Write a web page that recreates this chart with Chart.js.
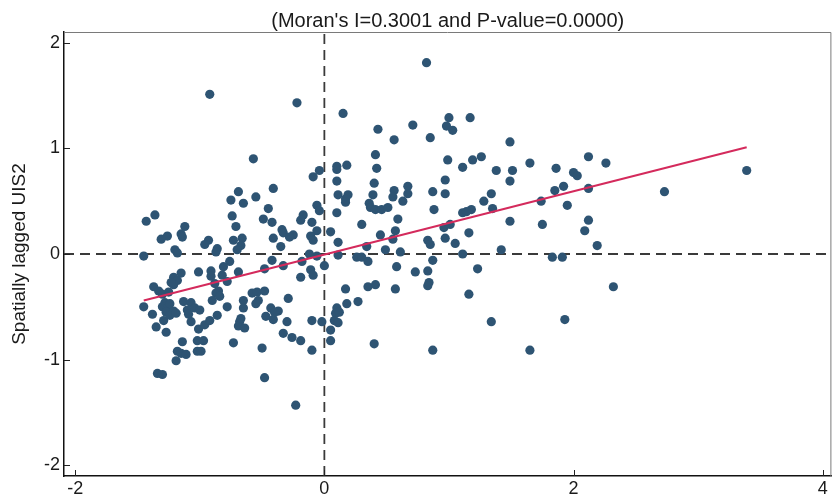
<!DOCTYPE html>
<html>
<head>
<meta charset="utf-8">
<script src="https://cdn.jsdelivr.net/npm/chart.js@4.4.1/dist/chart.umd.min.js"></script>
<style>
  html, body { margin: 0; padding: 0; background: #fff; }
  canvas { display: block; }
</style>
</head>
<body>
<canvas id="moranChart" width="836" height="498"></canvas>
<script>
// axis ranges and tick labels
const xRange = [-2.09, 4.07];
const yRange = [-2.1, 2.1];
const xTicks = [-2, 0, 2, 4];
const yTicks = [-2, -1, 0, 1, 2];

// standardised UIS2 (x) and its spatial lag (y)
const stdUIS2 = [
  // upper left quadrant
  -0.92, -0.22, -0.57, -0.04, -0.09, -0.41, -0.69, -0.75, -0.55, -0.65,
  -0.06, -0.04, -0.45, -0.74, -0.17, -0.19, -0.49, -0.42, -0.10, -1.43,
  -1.36, -0.71, -1.12, -1.15, -1.14, -1.26, -1.31, -0.34, -0.33, -0.25,
  -0.28, -0.06, -0.11, -0.09, -0.66, -0.73, -0.67, -0.70, -0.93, -0.96,
  -0.41, -0.35, -0.86, -0.87, -1.20, -1.18, -1.45, -0.76, -0.42,
  // lower left quadrant
  -0.81, -1.01, -0.91, -0.91, -0.82, -0.78, -0.69, -0.48, -0.33, -0.18,
  -0.11, -0.09, -0.19, 0.00, -0.06, -0.12, -1.15, -1.21, -1.18, -1.21,
  -1.23, -1.37, -1.33, -1.30, -1.25, -0.88, -0.85, -0.87, -0.90, -0.84,
  -1.45, -1.38, -1.35, -1.27, -1.29, -1.28, -1.30, -1.26, -1.24, -1.27,
  -1.21, -1.24, -1.19, -1.13, -1.07, -1.10, -1.09, -1.04, -1.00, -1.07,
  -1.01, -0.96, -0.92, -0.86, -0.78, -1.14, -1.18, -1.15, -1.11, -1.19,
  -1.02, -0.97, -1.02, -0.99, -1.34, -1.30, -0.73, -0.65, -0.65, -0.68,
  -0.69, -0.64, -0.67, -0.58, -0.54, -0.48, -0.53, -0.55, -0.29, -0.43,
  -0.37, -0.47, -0.41, -0.30, -0.33, -0.26, -0.19, -0.50, -0.10, -0.02,
  -0.10, -0.48, -0.23, -0.40,
  // upper right quadrant
  0.82, 0.15, 0.43, 0.71, 1.00, 1.17, 0.98, 1.03, 0.56, 0.85,
  1.49, 0.41, 0.99, 1.19, 1.26, 1.11, 1.38, 1.51, 0.10, 0.10,
  0.18, 0.42, 0.10, 0.40, 0.97, 1.49, 0.11, 0.19, 0.17, 0.17,
  0.39, 0.67, 0.56, 0.55, 0.67, 0.63, 0.87, 0.97, 0.36, 0.37,
  0.41, 0.46, 0.51, 0.88, 1.34, 1.28, 1.35, 1.11, 1.18, 1.14,
  0.10, 0.59, 1.49, 0.30, 0.05, 0.96, 1.01, 0.45, 0.57, 0.55,
  0.97, 1.16, 0.11, 0.83, 0.85, 1.05, 0.34, 0.49, 0.61, 0.26,
  0.30, 1.11, 1.42, 0.87, 0.11,
  // lower right quadrant
  0.35, 0.58, 0.73, 0.83, 0.84, 0.83, 1.23, 1.16, 1.34, 0.17,
  0.35, 0.41, 0.57, 0.18, 0.27, 0.10, 0.09, 0.12, 0.08, 0.11,
  0.05, 0.05, 0.40, 0.87,
  // far right
  1.65, 1.86, 2.12, 2.26, 2.00, 2.03, 1.85, 1.92, 2.12, 1.74,
  1.95, 2.73, 3.39, 1.75, 2.12, 2.09, 2.19, 1.83, 1.91, 2.32,
  1.93, 1.65
];

const lagUIS2 = [
  1.51, 1.43, 0.90, 0.79, 0.73, 0.62, 0.59, 0.51, 0.54, 0.48,
  0.46, 0.41, 0.43, 0.36, 0.37, 0.32, 0.33, 0.30, 0.30, 0.31,
  0.37, 0.26, 0.26, 0.19, 0.16, 0.17, 0.14, 0.23, 0.20, 0.18,
  0.16, 0.22, 0.17, 0.13, 0.15, 0.13, 0.08, 0.04, 0.13, 0.09,
  0.15, 0.07, 0.05, 0.02, 0.04, 0.01, -0.02, -0.07, -0.06,

  -0.12, -0.17, -0.16, -0.21, -0.20, -0.26, -0.17, -0.14, -0.11, -0.07,
  -0.15, -0.20, -0.22, -0.11, -0.02, 0.00, -0.18, -0.22, -0.25, -0.29,
  -0.27, -0.31, -0.35, -0.38, -0.36, -0.28, -0.35, -0.37, -0.44, -0.40,
  -0.50, -0.57, -0.69, -0.74, -0.63, -0.46, -0.50, -0.51, -0.47, -0.55,
  -0.54, -0.58, -0.56, -0.45, -0.46, -0.53, -0.57, -0.51, -0.53, -0.64,
  -0.71, -0.67, -0.63, -0.58, -0.50, -0.83, -0.92, -0.94, -0.95, -1.01,
  -0.82, -0.82, -0.92, -0.92, -1.13, -1.14, -0.84, -0.44, -0.51, -0.64,
  -0.68, -0.70, -0.61, -0.37, -0.36, -0.35, -0.44, -0.47, -0.42, -0.51,
  -0.54, -0.59, -0.62, -0.64, -0.75, -0.79, -0.82, -0.89, -0.63, -0.64,
  -0.91, -1.17, -1.43, -0.55,

  1.81, 1.33, 1.18, 1.22, 1.29, 1.29, 1.21, 1.17, 1.08, 1.10,
  1.06, 0.94, 0.89, 0.89, 0.92, 0.82, 0.79, 0.79, 0.83, 0.80,
  0.84, 0.81, 0.69, 0.67, 0.70, 0.69, 0.56, 0.56, 0.52, 0.49,
  0.56, 0.64, 0.60, 0.54, 0.57, 0.50, 0.59, 0.57, 0.48, 0.44,
  0.42, 0.42, 0.44, 0.42, 0.57, 0.50, 0.43, 0.39, 0.42, 0.40,
  0.39, 0.33, 0.31, 0.28, 0.21, 0.25, 0.28, 0.18, 0.22, 0.14,
  0.15, 0.20, 0.11, 0.13, 0.09, 0.10, 0.07, 0.04, 0.02, -0.03,
  -0.03, 0.00, 0.04, -0.06, -0.01,

  -0.07, -0.12, -0.17, -0.16, -0.27, -0.30, -0.14, -0.38, -0.64, -0.33,
  -0.31, -0.29, -0.33, -0.47, -0.45, -0.51, -0.56, -0.55, -0.63, -0.65,
  -0.72, -0.82, -0.85, -0.91,

  0.86, 0.81, 0.92, 0.86, 0.77, 0.74, 0.60, 0.64, 0.62, 0.50,
  0.46, 0.59, 0.79, 0.28, 0.32, 0.22, 0.08, -0.03, -0.03, -0.31,
  -0.62, -0.91
];

// fitted line end points (slope = Moran's I)
const fitX = [-1.45, 3.39];
const fitY = [-0.44, 1.01];

// mean reference lines
const meanX = 0;
const meanY = 0;

const fontFamily = "'Liberation Sans', Arial, Helvetica, sans-serif";

const points = stdUIS2.map((v, i) => ({ x: v, y: lagUIS2[i] }));
const fitLine = fitX.map((v, i) => ({ x: v, y: fitY[i] }));
const vLine = [{ x: meanX, y: yRange[0] }, { x: meanX, y: yRange[1] }];
const hLine = [{ x: xRange[0], y: meanY }, { x: xRange[1], y: meanY }];

// frame on top/right plus short inward tick marks
const frameTicks = {
    id: 'frameTicks',
    afterDatasetsDraw(chart) {
        const { ctx, chartArea: a, scales } = chart;
        ctx.save();
        ctx.strokeStyle = '#7a7a7a';
        ctx.lineWidth = 1;
        ctx.beginPath();
        ctx.moveTo(a.left, a.top + 0.5);
        ctx.lineTo(a.right - 0.5, a.top + 0.5);
        ctx.lineTo(a.right - 0.5, a.bottom);
        ctx.stroke();

        ctx.strokeStyle = '#222';
        ctx.beginPath();
        xTicks.forEach(v => {
            const px = Math.round(scales.x.getPixelForValue(v)) + 0.5;
            ctx.moveTo(px, a.bottom);
            ctx.lineTo(px, a.bottom - 6);
        });
        yTicks.forEach(v => {
            const py = Math.round(scales.y.getPixelForValue(v)) + 0.5;
            ctx.moveTo(a.left, py);
            ctx.lineTo(a.left + 6, py);
        });
        ctx.stroke();
        ctx.restore();
    }
};

const refLineStyle = {
    showLine: true,
    pointRadius: 0,
    borderColor: '#3a3a3a',
    borderWidth: 1.8,
    borderDash: [10, 6],
    order: 3
};

new Chart(document.getElementById('moranChart'), {
    type: 'scatter',
    data: {
        datasets: [
            { label: 'x mean', data: vLine, ...refLineStyle },
            { label: 'y mean', data: hLine, ...refLineStyle },
            {
                label: 'UIS2',
                data: points,
                pointRadius: 4.6,
                pointBorderWidth: 0,
                backgroundColor: '#2e5473',
                order: 2
            },
            {
                label: 'Fitted',
                data: fitLine,
                showLine: true,
                pointRadius: 0,
                borderColor: '#d42a5c',
                borderWidth: 2,
                order: 1
            }
        ]
    },
    options: {
        responsive: false,
        animation: false,
        events: [],
        layout: { padding: { left: 0, right: 2, top: 0, bottom: 0 } },
        plugins: {
            legend: { display: false },
            tooltip: { enabled: false },
            title: {
                display: true,
                fullSize: false,
                text: "(Moran's I=0.3001 and P-value=0.0000)",
                color: '#1a1a1a',
                font: { family: fontFamily, size: 20, weight: 'normal', lineHeight: 1 },
                padding: { top: 11, bottom: 1 }
            }
        },
        scales: {
            x: {
                type: 'linear',
                min: xRange[0],
                max: xRange[1],
                grid: { display: false, drawTicks: false },
                border: { display: true, color: '#111', width: 1.5 },
                ticks: {
                    color: '#1a1a1a',
                    padding: 2,
                    maxRotation: 0,
                    font: { family: fontFamily, size: 18 }
                },
                afterBuildTicks: scale => { scale.ticks = xTicks.map(v => ({ value: v })); },
                afterFit: scale => { scale.height = 22; }
            },
            y: {
                type: 'linear',
                min: yRange[0],
                max: yRange[1],
                grid: { display: false, drawTicks: false },
                border: { display: true, color: '#111', width: 1.5 },
                ticks: {
                    color: '#1a1a1a',
                    padding: 4,
                    font: { family: fontFamily, size: 18 }
                },
                title: {
                    display: true,
                    text: 'Spatially lagged UIS2',
                    color: '#1a1a1a',
                    font: { family: fontFamily, size: 19 },
                    padding: { top: 8, bottom: 0 }
                },
                afterBuildTicks: scale => { scale.ticks = yTicks.map(v => ({ value: v })); },
                afterFit: scale => { scale.width = 64; }
            }
        }
    },
    plugins: [frameTicks]
});
</script>
</body>
</html>
